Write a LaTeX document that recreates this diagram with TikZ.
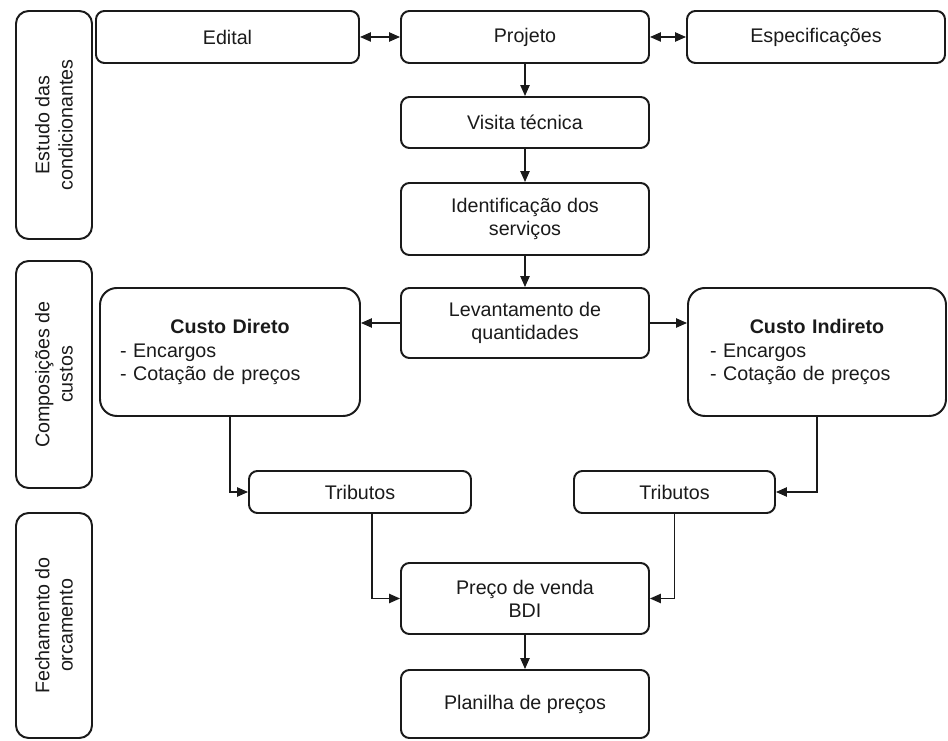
\documentclass[tikz,border=0pt]{standalone}
\usepackage{fontspec}
\setmainfont{Liberation Sans}
\usetikzlibrary{arrows.meta, positioning}
\definecolor{ink}{HTML}{1A1A1A}

\begin{document}
\begin{tikzpicture}[>={Triangle[length=2.7mm, width=2.3mm]},
  box/.style={draw=ink, line width=1.4pt, rounded corners=6pt, align=center,
    text=ink, font=\fontsize{14pt}{16.5pt}\selectfont, inner sep=2pt},
  side/.style={box, rounded corners=9pt, minimum width=1.9cm},
  cost/.style={box, rounded corners=12pt, align=left, minimum height=3.2cm},
  link/.style={draw=ink, line width=0.9pt}]

% Canvas
\useasboundingbox (0,0) rectangle (23.7,18.5);

% Phase boxes on the left
\node[side, minimum height=5.7cm] (estudo) at (1.35,15.375) {};
\node[box, draw=none, rotate=90] at (estudo) {Estudo das\\condicionantes};
\node[side, minimum height=5.675cm] (compos) at (1.35,9.1375) {};
\node[box, draw=none, rotate=90] at (compos) {Composições de\\custos};
\node[side, minimum height=5.625cm] (fecham) at (1.35,2.8625) {};
\node[box, draw=none, rotate=90] at (fecham) {Fechamento do\\orcamento};

% Top row
\node[box, minimum width=6.575cm, minimum height=1.3cm] (edital) at (5.6875,17.575) {Edital};
\node[box, minimum width=6.2cm, minimum height=1.3cm] (projeto) at (13.125,17.575) {Projeto};
\node[box, minimum width=6.45cm, minimum height=1.3cm] (espec) at (20.4,17.575) {Especificações};

% Central column
\node[box, minimum width=6.2cm, minimum height=1.275cm] (visita) at (13.125,15.4375) {Visita técnica};
\node[box, minimum width=6.2cm, minimum height=1.8cm] (ident) at (13.125,13.025) {Identificação dos\\serviços};
\node[box, minimum width=6.2cm, minimum height=1.75cm] (levant) at (13.125,10.425) {Levantamento de\\quantidades};

% Cost boxes
\node[cost, text width=5.5cm, inner xsep=0.5cm] (cdireto) at (5.75,9.7)
  {\makebox[\linewidth]{\textbf{Custo Direto}}\\- Encargos\\- Cotação de preços};
\node[cost, text width=5.35cm, inner xsep=0.55cm] (cindireto) at (20.425,9.7)
  {\makebox[\linewidth]{\textbf{Custo Indireto}}\\- Encargos\\- Cotação de preços};

% Taxes
\node[box, minimum width=5.55cm, minimum height=1.05cm] (tribd) at (9.0,6.2) {Tributos};
\node[box, minimum width=5.025cm, minimum height=1.05cm] (tribi) at (16.8625,6.2) {Tributos};

% Closing
\node[box, minimum width=6.2cm, minimum height=1.775cm] (preco) at (13.125,3.5375) {Preço de venda\\BDI};
\node[box, minimum width=6.2cm, minimum height=1.7cm] (planilha) at (13.125,0.9) {Planilha de preços};

% Connectors
\draw[link, <->] (edital) -- (projeto);
\draw[link, <->] (projeto) -- (espec);
\draw[link, ->] (projeto) -- (visita);
\draw[link, ->] (visita) -- (ident);
\draw[link, ->] (ident) -- (levant);
\draw[link, ->] (levant.west) -- (levant.west -| cdireto.east);
\draw[link, ->] (levant.east) -- (levant.east -| cindireto.west);
\draw[link, ->] (cdireto.south) |- (tribd.west);
\draw[link, ->] (cindireto.south) |- (tribi.east);
\draw[link, ->] ([xshift=0.3cm]tribd.south) |- (preco.west);
\draw[link, ->] (tribi.south) |- (preco.east);
\draw[link, ->] (preco) -- (planilha);

\end{tikzpicture}
\end{document}
